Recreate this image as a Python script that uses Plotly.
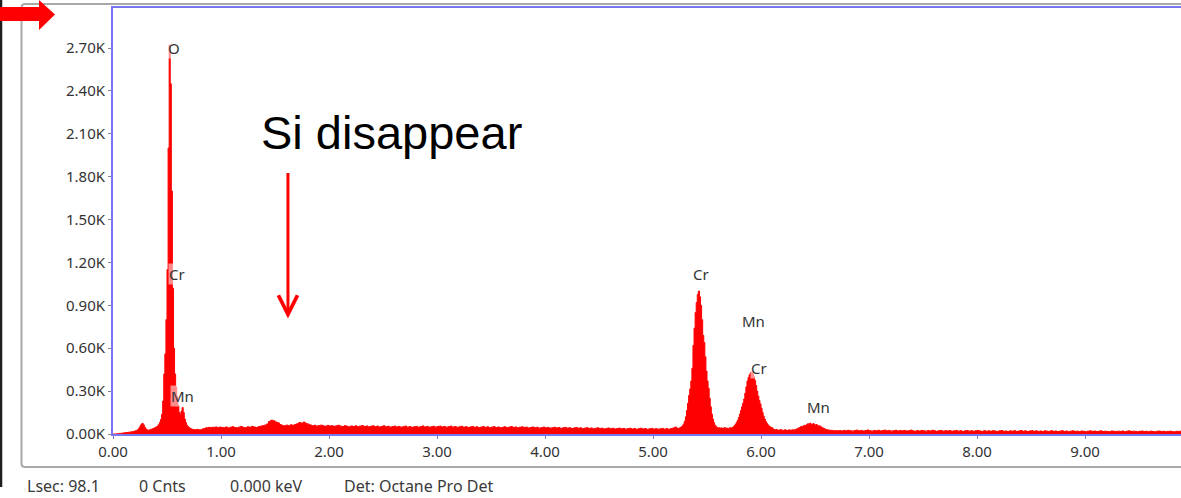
import plotly.graph_objects as go

# ---- spectrum counts (EDS, Octane Pro detector) ----
# low-energy region: 0.00 - 1.00 keV, 0.01 keV channels
low_start, low_step = 0.00, 0.01
low_counts = [
    0, 0, 0, 1, 2, 3, 4, 5, 6, 7, 8,
    9, 10, 11, 12, 13, 14, 16, 17, 19, 21,
    24, 27, 33, 44, 58, 70, 74, 64, 48, 36,
    29, 27, 28, 30, 33, 36, 39, 42, 46, 50,
    56, 66, 82, 102, 138, 230, 420, 560, 800, 1150,
    2000, 2720, 2450, 1700, 1020, 600, 420, 330, 260, 200,
    150, 135, 160, 185, 150, 105, 80, 62, 52, 45,
    40, 36, 33, 31, 30, 29, 31, 33, 30, 28,
    30, 33, 36, 38, 41, 44, 42, 45, 47, 44,
    46, 48, 45, 47, 50, 46, 44, 47, 49, 46,
]

# background region: 1.02 - 5.20 keV, 0.02 keV channels
mid_start, mid_step = 1.02, 0.02
mid_counts = [
    44, 49, 42, 47, 51, 45, 43, 48, 52, 46,
    44, 50, 47, 53, 49, 45, 51, 55, 58, 62,
    70, 88, 96, 92, 84, 78, 66, 60, 57, 62,
    58, 64, 61, 67, 72, 80, 76, 83, 74, 69,
    63, 58, 61, 55, 59, 62, 57, 54, 60, 56,
    58, 53, 57, 61, 55, 52, 58, 54, 50, 56,
    53, 57, 51, 55, 59, 52, 56, 50, 54, 57,
    51, 55, 49, 53, 57, 50, 54, 48, 52, 55,
    49, 53, 47, 51, 55, 48, 52, 46, 50, 53,
    47, 51, 56, 49, 53, 47, 50, 54, 48, 52,
    55, 49, 53, 47, 51, 55, 48, 52, 46, 50,
    54, 47, 51, 45, 49, 53, 47, 50, 44, 48,
    52, 46, 50, 44, 48, 51, 45, 49, 43, 47,
    50, 44, 48, 52, 46, 49, 43, 47, 50, 45,
    48, 42, 46, 49, 44, 47, 41, 45, 48, 43,
    46, 40, 44, 47, 42, 45, 39, 43, 46, 41,
    44, 38, 42, 45, 40, 43, 37, 41, 44, 39,
    42, 36, 40, 43, 38, 41, 35, 39, 42, 37,
    40, 35, 38, 41, 36, 39, 34, 37, 40, 35,
    38, 33, 37, 40, 35, 38, 32, 36, 39, 34,
    37, 33, 36, 39, 34, 37, 33, 38, 42, 48,
]

# Cr / Mn K-line region: 5.22 - 6.70 keV, 0.01 keV channels
k_start, k_step = 5.22, 0.01
k_counts = [
    # Cr K-alpha
    40, 38, 42, 45, 50, 58, 70, 90, 120, 165,
    215, 270, 315, 370, 460, 620, 740, 850, 920, 975,
    1000, 960, 900, 800, 690, 640, 540, 440, 370, 320,
    250, 190, 140, 105, 80, 62, 52, 46, 42,
    44, 40, 43, 38, 41, 45, 39, 42, 37, 41, 44, 40, 46, 50, 58,
    # Cr K-beta / Mn K-alpha
    68, 80, 95, 115, 140, 165, 190, 215, 245, 285,
    330, 370, 395, 415, 428, 432, 420, 400, 375, 340,
    300, 265, 235, 210, 180, 150, 125, 105, 88, 75,
    64, 56, 50, 46, 43,
    34, 31, 29, 32, 28, 26, 29, 31, 27, 25,
    28, 30, 26, 24, 27, 29, 25, 28, 30, 27,
    # Mn K-beta
    30, 33, 36, 40, 44, 49, 53, 51, 57, 61,
    58, 66, 72, 65, 76, 70, 64, 73, 67, 62,
    66, 60, 55, 57, 51, 46, 42, 38, 34, 31,
    29, 27, 28, 25, 26, 24, 25, 23, 24, 22,
]

# high-energy tail: 6.72 - 9.90 keV, 0.02 keV channels
high_start, high_step = 6.72, 0.02
high_counts = [
    24, 21, 25, 22, 26, 23, 20, 24, 27, 22,
    25, 21, 24, 28, 23, 20, 25, 22, 26, 21,
    24, 27, 22, 25, 20, 23, 26, 21, 24, 22,
    25, 21, 23, 27, 22, 19, 24, 21, 25, 22,
    20, 24, 21, 26, 22, 19, 23, 25, 20, 23,
    21, 24, 19, 22, 25, 20, 23, 18, 22, 24,
    20, 23, 19, 22, 25, 21, 18, 23, 20, 22,
    19, 23, 21, 18, 22, 24, 19, 21, 17, 22,
    20, 23, 18, 21, 24, 19, 22, 17, 21, 23,
    19, 22, 18, 21, 17, 22, 20, 18, 23, 19,
    21, 17, 20, 23, 18, 21, 16, 20, 22, 18,
    20, 17, 21, 19, 16, 20, 22, 18, 21, 17,
    19, 22, 17, 20, 18, 16, 21, 19, 17, 20,
    18, 21, 16, 19, 22, 17, 20, 18, 16, 19,
    21, 17, 19, 16, 20, 18, 15, 19, 21, 17,
    19, 16, 18, 20, 17, 15, 19, 17, 20, 18,
]

# peak identification labels: (text, energy keV, counts)
peak_labels = [
    ("O", 0.565, 2703),
    ("Cr", 0.593, 1122),
    ("Mn", 0.648, 269),
    ("Cr", 5.444, 1122),
    ("Mn", 5.926, 790),
    ("Cr", 5.986, 462),
    ("Mn", 6.528, 192),
]

# axis ticks
x_ticks = [0, 1, 2, 3, 4, 5, 6, 7, 8, 9]
x_tick_text = ["0.00", "1.00", "2.00", "3.00", "4.00", "5.00", "6.00", "7.00", "8.00", "9.00"]
y_ticks = [0, 300, 600, 900, 1200, 1500, 1800, 2100, 2400, 2700]
y_tick_text = ["0.00K", "0.30K", "0.60K", "0.90K", "1.20K", "1.50K", "1.80K", "2.10K", "2.40K", "2.70K"]

status_items = [("Lsec: 98.1", 25), ("0 Cnts", 137), ("0.000 keV", 228), ("Det: Octane Pro Det", 342)]

# arrow marking where the Si peak used to be (energy, counts)
si_marker = (1.62, 808)


def channels(start, step, n):
    return [round(start + step * i, 4) for i in range(n)]


energy = (channels(low_start, low_step, len(low_counts))
          + channels(mid_start, mid_step, len(mid_counts))
          + channels(k_start, k_step, len(k_counts))
          + channels(high_start, high_step, len(high_counts)))
counts = low_counts + mid_counts + k_counts + high_counts

# ---- layout geometry (pixels) ----
W, H = 1181, 498
ML, MR, MT, MB = 113, 0, 8, 64
PW, PH = W - ML - MR, H - MT - MB
KEV_PER_PX = 1 / 108.0


def px_x(px):
    return (px - ML) / PW


def px_y(py):
    return (H - MB - py) / PH


FONT = "Noto Sans"
TEXT = "#333333"
BLUE = "rgb(118,118,240)"

fig = go.Figure()
fig.add_trace(go.Scatter(
    x=energy, y=counts, mode="lines", line_shape="hv",
    line=dict(color="#ff0000", width=1),
    fill="tozeroy", fillcolor="#ff0000",
    hoverinfo="x+y", showlegend=False,
))

annotations = []
for text, e, c in peak_labels:
    annotations.append(dict(
        x=e, y=c, xref="x", yref="y", text=text, showarrow=False,
        font=dict(family=FONT, size=15, color=TEXT),
        bgcolor="rgba(255,255,255,0.55)", borderpad=0,
        xanchor="center", yanchor="middle",
    ))

annotations.append(dict(
    x=px_x(391), y=px_y(132), xref="paper", yref="paper",
    text="Si disappear", showarrow=False,
    font=dict(family="Liberation Sans", size=47, color="#000000"),
    xanchor="center", yanchor="middle",
))

annotations.append(dict(
    x=si_marker[0], y=si_marker[1], xref="x", yref="y", text="",
    showarrow=True, ax=0, ay=-147, axref="pixel", ayref="pixel",
    arrowcolor="#ff0000", arrowwidth=3, arrowhead=5, arrowsize=1.25,
))

for text, px in status_items:
    annotations.append(dict(
        x=px_x(px), y=px_y(486), xref="paper", yref="paper",
        text=text, showarrow=False, xanchor="left", yanchor="middle",
        font=dict(family=FONT, size=16, color="#3a3a3a"),
    ))

shapes = [
    # outer window frame
    dict(type="path", xref="paper", yref="paper", layer="below",
         path=(f"M {px_x(1200)},{px_y(4)} L {px_x(25)},{px_y(4)} "
               f"Q {px_x(21.5)},{px_y(4)} {px_x(21.5)},{px_y(7.5)} "
               f"L {px_x(21.5)},{px_y(463.5)} "
               f"Q {px_x(21.5)},{px_y(467)} {px_x(25)},{px_y(467)} "
               f"L {px_x(1200)},{px_y(467)}"),
         line=dict(color="#a9a9a9", width=2)),
    # dark edge on the far left
    dict(type="line", xref="paper", yref="paper",
         x0=px_x(1), x1=px_x(1), y0=px_y(0), y1=px_y(487),
         line=dict(color="#1e1e1e", width=2.5)),
    # red block arrow in the corner
    dict(type="path", xref="paper", yref="paper", layer="above",
         path=(f"M {px_x(0)},{px_y(7)} L {px_x(39)},{px_y(7)} L {px_x(39)},{px_y(0)} "
               f"L {px_x(55)},{px_y(14.5)} L {px_x(39)},{px_y(30)} L {px_x(39)},{px_y(21)} "
               f"L {px_x(0)},{px_y(21)} Z"),
         fillcolor="#ff0000", line=dict(width=0)),
]

fig.update_layout(
    width=W, height=H,
    margin=dict(l=ML, r=MR, t=MT, b=MB, pad=0),
    paper_bgcolor="white", plot_bgcolor="white",
    font=dict(family=FONT, size=15, color=TEXT),
    annotations=annotations, shapes=shapes,
    xaxis=dict(
        range=[0, PW * KEV_PER_PX], tickvals=x_ticks, ticktext=x_tick_text,
        showgrid=False, zeroline=False,
        showline=True, linecolor=BLUE, linewidth=2, mirror=True,
        ticks="outside", ticklen=3, tickcolor="#7777cc", tickwidth=1,
        tickfont=dict(family=FONT, size=15, color=TEXT),
    ),
    yaxis=dict(
        range=[0, 2980], tickvals=y_ticks, ticktext=y_tick_text,
        showgrid=False, zeroline=False,
        showline=True, linecolor=BLUE, linewidth=2, mirror=False,
        ticks="outside", ticklen=3, tickcolor="#888888", tickwidth=1,
        tickfont=dict(family=FONT, size=15, color=TEXT),
    ),
)

fig.write_html("out.html")
